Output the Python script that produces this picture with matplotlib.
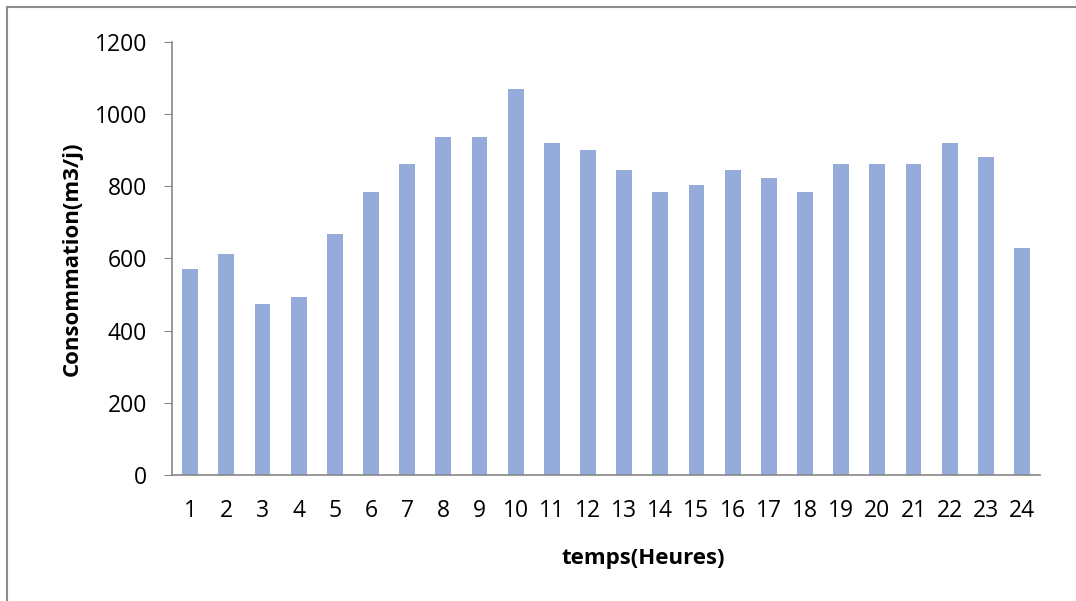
import matplotlib
matplotlib.use("Agg")
import matplotlib.pyplot as plt
from matplotlib.lines import Line2D

heures = list(range(1, 25))
consommation = [572, 611, 475, 494, 667, 783, 861, 936, 936, 1069, 919, 900,
                844, 783, 803, 844, 822, 783, 861, 861, 861, 919, 880, 630]
y_ticks = [0, 200, 400, 600, 800, 1000, 1200]

plt.rcParams['font.family'] = ['Open Sans', 'DejaVu Sans']

fig = plt.figure(figsize=(10.76, 6.01), dpi=100)
ax = fig.add_axes([0.1599, 0.2097, 0.8067, 0.7205])

ax.bar(heures, consommation, width=0.44, color='#95abda')

ax.set_xlim(0.5, 24.5)
ax.set_ylim(0, 1200)
ax.set_yticks(y_ticks)
ax.set_xticks(heures)
ax.set_xticklabels([str(h) for h in heures])

for side in ['top', 'right']:
    ax.spines[side].set_visible(False)
ax.spines['left'].set_color('#868686')
ax.spines['bottom'].set_color('#868686')
ax.spines['left'].set_linewidth(1.2)
ax.spines['bottom'].set_linewidth(1.2)

ax.tick_params(axis='y', direction='out', length=6, color='#868686',
               labelsize=16.5, pad=12)
ax.tick_params(axis='x', length=0, labelsize=16.5, pad=17)

ax.set_ylabel('Consommation(m3/j)', fontsize=16, fontweight='bold')
ax.set_xlabel('temps(Heures)', fontsize=16, fontweight='bold')
ax.yaxis.set_label_coords(-0.115, 0.5)
ax.xaxis.set_label_coords(0.543, -0.192)
ax.yaxis.label.set_va('center')
ax.xaxis.label.set_va('center')

# cadre gris du graphique
fig.add_artist(Line2D([0.0065, 0.0065], [0, 0.989], color='#8c8c8c', lw=1.5,
                      transform=fig.transFigure))
fig.add_artist(Line2D([0.0065, 1.0], [0.989, 0.989], color='#8c8c8c', lw=1.5,
                      transform=fig.transFigure))

fig.savefig('out.png', dpi=100)
